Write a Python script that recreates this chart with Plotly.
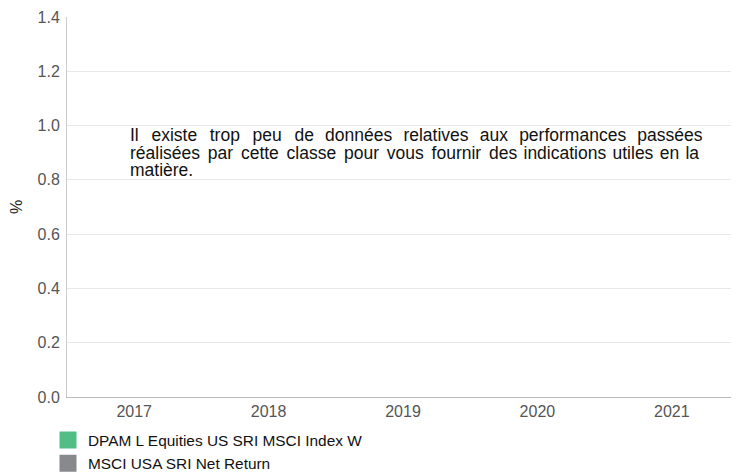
import plotly.graph_objects as go

years = ["2017", "2018", "2019", "2020", "2021"]
fund_values = [None, None, None, None, None]
index_values = [None, None, None, None, None]
fund_name = "DPAM L Equities US SRI MSCI Index W"
index_name = "MSCI USA SRI Net Return"
y_ticks = [0.0, 0.2, 0.4, 0.6, 0.8, 1.0, 1.2, 1.4]
message_lines = [
    "Il existe trop peu de données relatives aux performances passées",
    "réalisées par cette classe pour vous fournir des indications utiles en la",
    "matière.",
]

# the page body adds an 8px offset; size the figure to fit the window
W, H = 731, 465
OFF = 8
plot_l, plot_t, plot_b = 67 - OFF, 17 - OFF, 397 - OFF
plot_h = plot_b - plot_t
plot_w = W - plot_l

fig = go.Figure()
fig.add_trace(go.Bar(x=years, y=fund_values, name=fund_name, marker_color="#52bd84",
                     marker_line=dict(color="#52bd84", width=5)))
fig.add_trace(go.Bar(x=years, y=index_values, name=index_name, marker_color="#88898d",
                     marker_line=dict(color="#88898d", width=5)))


def justify(line, base, extra, n_extra):
    words = line.split(" ")
    out = words[0]
    for k, w in enumerate(words[1:]):
        out += base + (extra if k < n_extra else "") + w
    return out


# justified look: widen word gaps on the first two lines
line_texts = [
    justify(message_lines[0], " \u00a0\u200a", "\u200a", 4),
    justify(message_lines[1], " \u200a", "\u200a", 7),
    message_lines[2],
]
annotations = []
for i, txt in enumerate(line_texts):
    annotations.append(dict(text=txt, xref="paper", yref="paper",
                            x=(128 - OFF - plot_l) / plot_w,
                            y=(plot_b - (135 - OFF) - i * 17.5) / plot_h,
                            xanchor="left", yanchor="middle",
                            align="left", showarrow=False,
                            font=dict(size=17.5, color="#111111")))

fig.update_layout(
    width=W, height=H,
    margin=dict(l=plot_l, r=0, t=plot_t, b=H - plot_b, autoexpand=False),
    paper_bgcolor="white", plot_bgcolor="white",
    font=dict(family="Liberation Sans, Arial, sans-serif", size=14, color="#444444"),
    showlegend=True,
    legend=dict(orientation="v", x=(48 - 67) / plot_w, xanchor="left",
                y=-0.07, yanchor="top",
                font=dict(size=15.4, color="#111111"), tracegroupgap=0,
                itemwidth=30, bgcolor="rgba(0,0,0,0)"),
    xaxis=dict(type="category", categoryorder="array", categoryarray=years,
               showline=True, linecolor="#bbbbbb", linewidth=1, showgrid=False,
               ticks="", tickfont=dict(size=16, color="#555555"), range=[-0.5, 4.5],
               automargin=False),
    yaxis=dict(range=[0, 1.4], tickvals=y_ticks, tickformat=".1f",
               showline=True, linecolor="#cccccc", linewidth=1,
               showgrid=True, gridcolor="#e8e8e8", zeroline=False,
               ticks="", tickfont=dict(size=16, color="#555555"), automargin=False,
               ticklabelstandoff=3,
               title=dict(text="%", font=dict(size=16, color="#222222"), standoff=20)),
    annotations=annotations,
)

fig.write_html("out.html")
